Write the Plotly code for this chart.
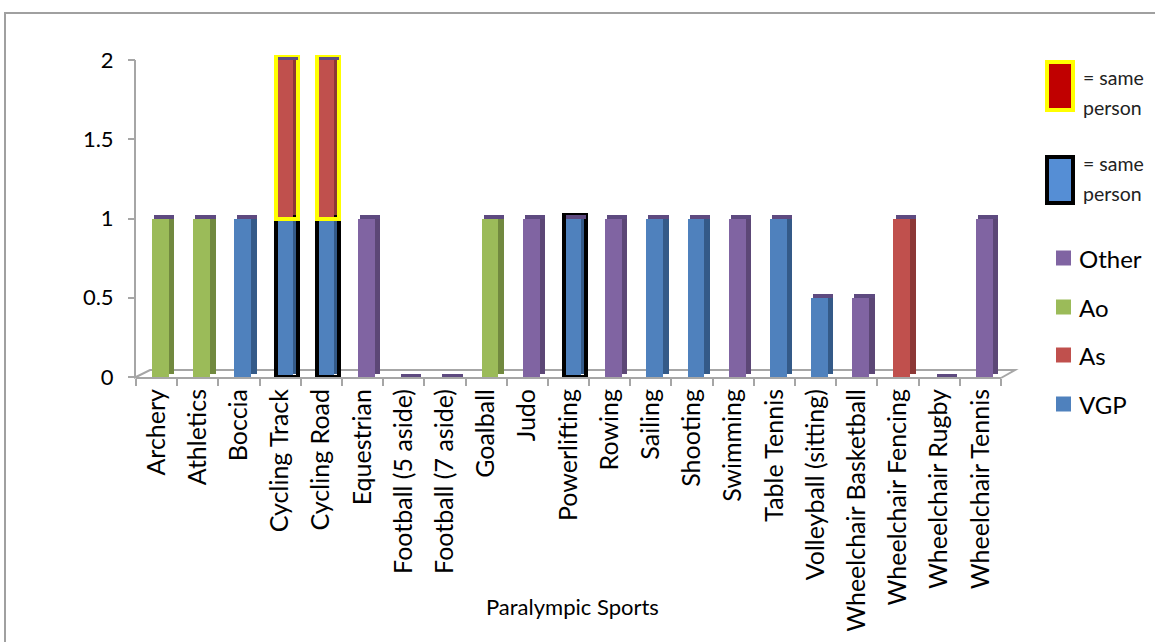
import numpy as np
import plotly.graph_objects as go

# ---------------- data ----------------
sports = ["Archery", "Athletics", "Boccia", "Cycling Track", "Cycling Road", "Equestrian",
          "Football (5 aside)", "Football (7 aside)", "Goalball", "Judo", "Powerlifting",
          "Rowing", "Sailing", "Shooting", "Swimming", "Table Tennis", "Volleyball (sitting)",
          "Wheelchair Basketball", "Wheelchair Fencing", "Wheelchair Rugby", "Wheelchair Tennis"]
vgp   = [0, 0, 1, 1, 1, 0, 0, 0, 0, 0, 1, 0, 1, 1, 0, 1, 0.5, 0, 0, 0, 0]
as_   = [0, 0, 0, 1, 1, 0, 0, 0, 0, 0, 0, 0, 0, 0, 0, 0, 0, 0, 1, 0, 0]
ao    = [1, 1, 0, 0, 0, 0, 0, 0, 1, 0, 0, 0, 0, 0, 0, 0, 0, 0, 0, 0, 0]
other = [0, 0, 0, 0, 0, 1, 0, 0, 0, 1, 0, 1, 0, 0, 1, 0, 0, 0.5, 0, 0, 1]
# sports where the same person holds the VGP / As entries
same_person_vgp = ["Cycling Track", "Cycling Road", "Powerlifting"]
same_person_as = ["Cycling Track", "Cycling Road"]
y_ticks = [0, 0.5, 1, 1.5, 2]
y_ticklabels = ["0", "0.5", "1", "1.5", "2"]

# ---------------- layout geometry ----------------
W, H = 1155, 642
L, R = 136, 1001
Y0_PX, Y2_PX = 377, 60          # pixel rows of y=0 and y=2
T = 48                          # plot top (leaves room for 3-D top faces above y=2)
B = Y0_PX
PW, PH = R - L, B - T
Y_MAX = 2 * (B - T) / (Y0_PX - Y2_PX)


def X(px):
    return (px - L) / PW


def Y(py):
    return (B - py) / PH


FONT = "Lato"
series = [
    ("VGP", vgp, "#4f81bd", "#345a88", same_person_vgp, "#000000", 4),
    ("As", as_, "#c0504d", "#8c3836", same_person_as, "#ffff00", 4),
    ("Ao", ao, "#9bbb59", "#71893f", [], "#000000", 0),
    ("Other", other, "#8064a2", "#5c4776", [], "#000000", 0),
]

FRONT_OFF, FRONT_W = -0.11, 0.41
SIDE_OFF, SIDE_W = 0.30, 0.13
DEPTH = 0.022

fig = go.Figure()
base = np.zeros(len(sports))
for name, vals, c_front, c_side, flagged, lc, lw in series:
    v = np.array(vals, dtype=float)
    # side face
    fig.add_trace(go.Bar(x=sports, y=v, base=base + DEPTH, offset=SIDE_OFF, width=SIDE_W,
                         marker=dict(color=c_side, line=dict(width=0)),
                         showlegend=False, hoverinfo="skip"))
    # front face
    fig.add_trace(go.Bar(x=sports, y=v, base=base, offset=FRONT_OFF, width=FRONT_W, name=name,
                         marker=dict(color=c_front, line=dict(width=0)),
                         showlegend=False))
    # "same person" outline
    if flagged:
        widths = [lw if s in flagged else 0 for s in sports]
        fig.add_trace(go.Bar(x=sports, y=np.where(v > 0, v + DEPTH, 0), base=base,
                             offset=FRONT_OFF, width=FRONT_W + SIDE_W,
                             marker=dict(color="rgba(0,0,0,0)", line=dict(color=lc, width=widths)),
                             showlegend=False, hoverinfo="skip"))
    base = base + v

# top faces (seen from above in the 3-D view)
fig.add_trace(go.Bar(x=sports, y=[DEPTH] * len(sports), base=base, offset=FRONT_OFF + 0.05,
                     width=FRONT_W + SIDE_W - 0.05,
                     marker=dict(color="#5e4a80", line=dict(width=0)),
                     showlegend=False, hoverinfo="skip"))

shapes = []
# outer chart frame
shapes.append(dict(type="rect", xref="paper", yref="paper", x0=X(5), y0=Y(13), x1=X(1175), y1=Y(660),
                   line=dict(color="#a0a0a0", width=2), fillcolor="rgba(0,0,0,0)", layer="below"))
# vertical axis line (from 0 to 2 only)
shapes.append(dict(type="line", xref="paper", yref="paper", x0=X(135), x1=X(135), y0=Y(378), y1=Y(Y2_PX),
                   line=dict(color="#a6a6a6", width=2), layer="below"))
# 3-D floor
floor = f"M {X(134)} {Y(378)} L {X(150)} {Y(370)} L {X(1015)} {Y(370)} L {X(1001)} {Y(378)}"
shapes.append(dict(type="path", xref="paper", yref="paper", path=floor,
                   line=dict(color="#a6a6a6", width=2), layer="below"))

annotations = []
# custom legend: same person boxes
shapes.append(dict(type="rect", xref="paper", yref="paper", x0=X(1047), x1=X(1073), y0=Y(110), y1=Y(62),
                   fillcolor="#c00000", line=dict(color="#ffff00", width=4)))
shapes.append(dict(type="rect", xref="paper", yref="paper", x0=X(1047), x1=X(1073), y0=Y(203), y1=Y(157),
                   fillcolor="#558ed5", line=dict(color="#000000", width=4)))
for txt, py in [("= same", 78), ("person", 107), ("= same", 163), ("person", 193)]:
    annotations.append(dict(text=txt, xref="paper", yref="paper", x=X(1081), y=Y(py), xanchor="left",
                            yanchor="middle", showarrow=False, font=dict(family=FONT, size=19.5, color="#222")))
# series legend
for (name, _v, c_front, *_rest), py in zip(reversed(series), [258, 307, 355, 404]):
    shapes.append(dict(type="rect", xref="paper", yref="paper", x0=X(1056), x1=X(1071),
                       y0=Y(py + 7.5), y1=Y(py - 7.5), fillcolor=c_front, line=dict(width=0)))
    annotations.append(dict(text=name, xref="paper", yref="paper", x=X(1077), y=Y(py), xanchor="left",
                            yanchor="middle", showarrow=False, font=dict(family=FONT, size=24, color="#000")))
# x-axis title
annotations.append(dict(text="Paralympic Sports", xref="paper", yref="paper", x=X(572), y=Y(606),
                        xanchor="center", yanchor="middle", showarrow=False,
                        font=dict(family=FONT, size=22, color="#000")))

fig.update_layout(
    width=W, height=H,
    margin=dict(l=L, r=W - R, t=T, b=H - B, autoexpand=False),
    paper_bgcolor="white", plot_bgcolor="white",
    barmode="overlay", bargap=0,
    shapes=shapes, annotations=annotations,
    showlegend=False,
    font=dict(family=FONT, color="#000"),
    xaxis=dict(type="category", categoryorder="array", categoryarray=sports,
               range=[-0.5, len(sports) - 0.5], tickson="boundaries",
               showline=True, linecolor="#a6a6a6", linewidth=2,
               ticks="outside", ticklen=7, tickcolor="#a6a6a6", tickwidth=2,
               tickangle=-90, tickfont=dict(family=FONT, size=25, color="#000"),
               showgrid=False, zeroline=False, automargin=False, fixedrange=True),
    yaxis=dict(range=[0, Y_MAX], tickvals=y_ticks, ticktext=y_ticklabels,
               showline=False,
               ticks="outside", ticklen=7, tickcolor="#a6a6a6", tickwidth=2,
               ticklabelstandoff=10,
               tickfont=dict(family=FONT, size=22, color="#000"),
               showgrid=False, zeroline=False, automargin=False, fixedrange=True),
)

fig.write_html("out.html", config={"displayModeBar": False},
               post_script="document.body.style.margin='0';document.body.style.overflow='hidden';")
